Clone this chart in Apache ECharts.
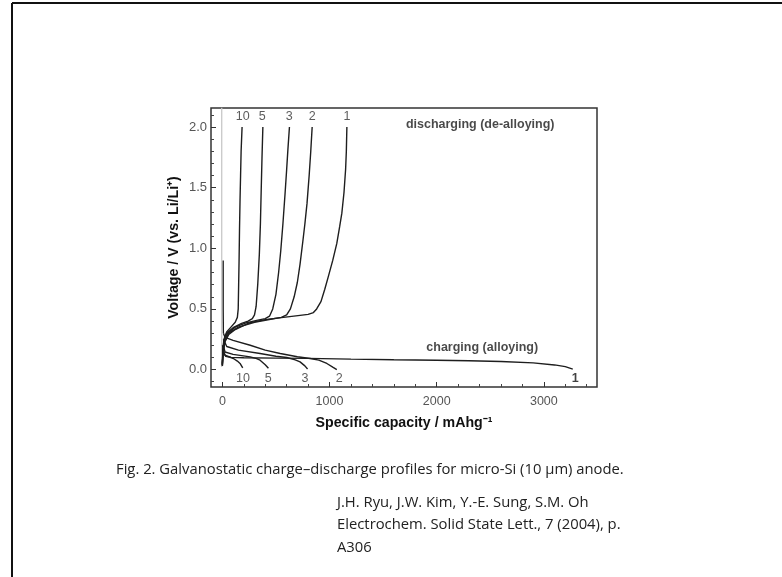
<!DOCTYPE html>
<html>
<head>
<meta charset="utf-8">
<script src="https://cdn.jsdelivr.net/npm/echarts@6/dist/echarts.min.js"></script>
<style>
  html, body { margin: 0; padding: 0; background: #fff; }
  #chart { width: 782px; height: 577px; }
</style>
</head>
<body>
<div id="chart"></div>
<script>
// Voltage profiles [capacity mAh/g, voltage V] for each cycle.
// Discharging (de-alloying) branches.
const discharge1 = [[0,0.05],[8,0.15],[25,0.23],[60,0.29],[120,0.33],[250,0.385],[400,0.412],[570,0.43],[725,0.447],[800,0.455],[850,0.47],[880,0.5],[920,0.56],[955,0.66],[990,0.77],[1030,0.9],[1068,1.04],[1095,1.18],[1115,1.29],[1135,1.46],[1150,1.65],[1157,1.8],[1162,2.0]];
const discharge2 = [[0,0.03],[6,0.14],[20,0.23],[60,0.3],[150,0.35],[300,0.39],[450,0.415],[550,0.43],[600,0.45],[635,0.5],[670,0.6],[700,0.72],[725,0.87],[750,1.05],[770,1.2],[790,1.37],[810,1.6],[825,1.8],[838,2.0]];
const discharge3 = [[0,0.03],[6,0.15],[18,0.24],[50,0.3],[120,0.35],[220,0.385],[320,0.405],[400,0.42],[440,0.44],[470,0.5],[500,0.62],[525,0.8],[545,0.98],[565,1.2],[585,1.45],[600,1.65],[612,1.82],[626,2.0]];
const discharge5 = [[0,0.04],[5,0.15],[15,0.24],[40,0.3],[100,0.345],[180,0.38],[240,0.4],[280,0.42],[300,0.45],[315,0.52],[330,0.7],[345,0.95],[355,1.2],[363,1.5],[370,1.75],[378,2.0]];
const discharge10 = [[0,0.04],[5,0.16],[15,0.25],[40,0.31],[80,0.35],[120,0.39],[140,0.43],[148,0.5],[152,0.7],[156,0.9],[160,1.15],[165,1.4],[170,1.6],[175,1.8],[184,2.0]];

// Charging (alloying) branches.
const charge1 = [[2,0.2],[10,0.14],[30,0.11],[80,0.1],[200,0.097],[500,0.094],[800,0.092],[1200,0.086],[1600,0.081],[2000,0.077],[2300,0.072],[2600,0.066],[2900,0.055],[3100,0.038],[3200,0.024],[3270,0.004]];
const charge2 = [[10,0.3],[25,0.265],[100,0.24],[260,0.2],[400,0.16],[540,0.132],[700,0.105],[819,0.091],[900,0.078],[975,0.05],[1030,0.02],[1068,0.0]];
const charge3 = [[10,0.25],[41,0.19],[150,0.16],[352,0.132],[500,0.11],[601,0.099],[680,0.08],[725,0.063],[770,0.03],[795,0.005]];
const charge5 = [[8,0.2],[25,0.145],[100,0.125],[260,0.104],[320,0.09],[352,0.077],[400,0.04],[430,0.01]];
const charge10 = [[6,0.17],[25,0.118],[103,0.091],[140,0.07],[165,0.05],[190,0.013]];

// Initial potential drop of the first cycle and the short rest segment.
const initialDrop = [[-6,2.16],[-6,0.02]];
const restSegment = [[8,0.9],[8,0.5],[10,0.3]];

// Cycle numbers written at the ends of the curves.
const topCycleLabels = [['10',190,2.085],['5',371,2.085],['3',623,2.085],['2',838,2.085],['1',1162,2.085]];
const bottomCycleLabels = [['10',193,-0.072],['5',427,-0.072],['3',772,-0.072],['2',1090,-0.072]];
const lastCycleLabel = [['1',3293,-0.072]];
const regionLabels = [['discharging (de-alloying)',2406,2.02],['charging (alloying)',2425,0.184]];

// Axis ticks and labels.
const xLabelValues = [0,1000,2000,3000];
const xMinorValues = [0,200,400,600,800,1000,1200,1400,1600,1800,2000,2200,2400,2600,2800,3000,3200,3400];
const yLabelValues = [0,0.5,1.0,1.5,2.0];
const yMinorValues = [-0.1,0,0.1,0.2,0.3,0.4,0.5,0.6,0.7,0.8,0.9,1.0,1.1,1.2,1.3,1.4,1.5,1.6,1.7,1.8,1.9,2.0,2.1];

const X_MIN = -106, X_MAX = 3496, Y_MIN = -0.144, Y_MAX = 2.157;
const FONT = 'Liberation Sans, Arial, sans-serif';
const CAPTION_FONT = '14.8px "Open Sans", Lato, sans-serif';
const INK = '#1e1e1e';

function curve(data, color, width) {
  return {
    type: 'line', data: data, showSymbol: false, symbol: 'none', silent: true,
    lineStyle: { color: color || INK, width: width || 1.4 }, z: 3
  };
}
function textSeries(items, style) {
  return {
    type: 'scatter', silent: true, symbolSize: 0, z: 5,
    data: items.map(d => ({ value: [d[1], d[2]], name: d[0] })),
    label: Object.assign({ show: true, position: 'inside', formatter: p => p.name,
      fontFamily: FONT, fontSize: 12, color: '#333' }, style)
  };
}

const chart = echarts.init(document.getElementById('chart'), null, { renderer: 'canvas' });
chart.setOption({
  animation: false,
  backgroundColor: '#fff',
  grid: { left: 211, top: 108, right: 185, bottom: 190, show: true, borderColor: '#333', borderWidth: 1.5, backgroundColor: 'transparent' },
  xAxis: [{
    type: 'value', min: X_MIN, max: X_MAX,
    name: 'Specific capacity / mAhg\u207B\u00B9', nameLocation: 'middle', nameGap: 29,
    nameTextStyle: { fontFamily: FONT, fontWeight: 'bold', fontSize: 14.2, color: '#111' },
    axisLine: { show: false, onZero: false },
    axisTick: { show: true, inside: true, length: 3, customValues: xMinorValues, lineStyle: { color: '#444' } },
    axisLabel: { customValues: xLabelValues, margin: 8, fontFamily: FONT, fontSize: 12.5, color: '#555', formatter: v => String(v) },
    splitLine: { show: false }
  }, {
    type: 'value', min: X_MIN, max: X_MAX, position: 'bottom',
    axisLine: { show: false, onZero: false },
    axisTick: { show: true, inside: true, length: 5, customValues: xLabelValues, lineStyle: { color: '#333' } },
    axisLabel: { show: false }, splitLine: { show: false }
  }],
  yAxis: [{
    type: 'value', min: Y_MIN, max: Y_MAX,
    name: 'Voltage / V (vs. Li/Li\u207A)', nameLocation: 'middle', nameGap: 30, nameRotate: 90,
    nameTextStyle: { fontFamily: FONT, fontWeight: 'bold', fontSize: 14.2, color: '#111' },
    axisLine: { show: false, onZero: false },
    axisTick: { show: true, inside: true, length: 3, customValues: yMinorValues, lineStyle: { color: '#444' } },
    axisLabel: { customValues: yLabelValues, margin: 4, fontFamily: FONT, fontSize: 13, color: '#555', formatter: v => v.toFixed(1) },
    splitLine: { show: false }
  }, {
    type: 'value', min: Y_MIN, max: Y_MAX, position: 'left',
    axisLine: { show: false, onZero: false },
    axisTick: { show: true, inside: true, length: 5, customValues: yLabelValues, lineStyle: { color: '#333' } },
    axisLabel: { show: false }, splitLine: { show: false }
  }],
  series: [
    curve(initialDrop, '#c8c8c8', 1.3),
    curve(restSegment, INK, 1.3),
    curve(discharge1), curve(discharge2), curve(discharge3), curve(discharge5), curve(discharge10),
    curve(charge1), curve(charge2), curve(charge3), curve(charge5), curve(charge10),
    textSeries(topCycleLabels, { fontSize: 12.5, color: '#333' }),
    textSeries(bottomCycleLabels, { fontSize: 12.5, color: '#333' }),
    textSeries(lastCycleLabel, { fontSize: 12.5, fontWeight: 'bold', color: '#111' }),
    textSeries(regionLabels, { fontSize: 12.5, fontWeight: 'bold', color: '#1a1a1a' })
  ],
  graphic: [
    { type: 'line', shape: { x1: 12, y1: 3, x2: 782, y2: 3 }, style: { stroke: '#111', lineWidth: 2 } },
    { type: 'line', shape: { x1: 12, y1: 3, x2: 12, y2: 577 }, style: { stroke: '#111', lineWidth: 2 } },
    { type: 'text', left: 116, top: 462, style: { text: 'Fig. 2. Galvanostatic charge\u2013discharge profiles for micro-Si (10 \u00B5m) anode.', font: CAPTION_FONT, fill: '#222' } },
    { type: 'text', left: 337, top: 495, style: { text: 'J.H. Ryu, J.W. Kim, Y.-E. Sung, S.M. Oh', font: CAPTION_FONT, fill: '#222' } },
    { type: 'text', left: 337, top: 517, style: { text: 'Electrochem. Solid State Lett., 7 (2004), p.', font: CAPTION_FONT, fill: '#222' } },
    { type: 'text', left: 337, top: 540, style: { text: 'A306', font: CAPTION_FONT, fill: '#222' } }
  ]
});
</script>
</body>
</html>
